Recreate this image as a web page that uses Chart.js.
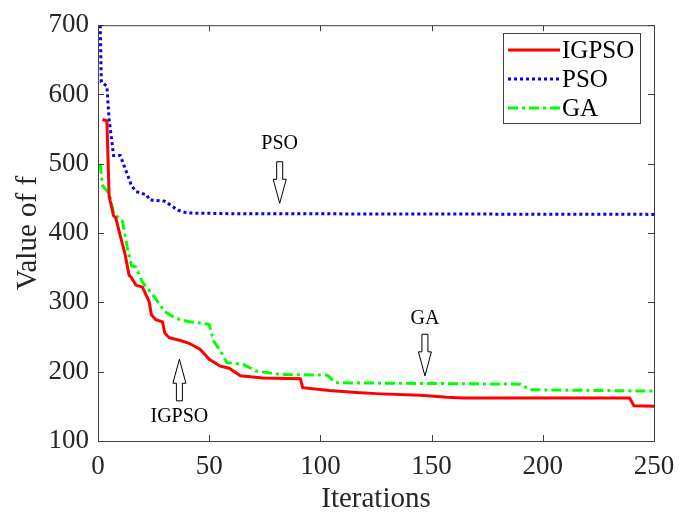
<!DOCTYPE html>
<html>
<head>
<meta charset="utf-8">
<script src="https://cdn.jsdelivr.net/npm/chart.js@4/dist/chart.umd.min.js"></script>
<style>
  html, body { margin: 0; padding: 0; background: #fff; }
  canvas { display: block; }
</style>
</head>
<body>
<canvas id="chart" width="693" height="518"></canvas>
<script>
// values (iteration, value of f)
const iterIGPSO = [2, 4, 5, 7, 8, 10, 12, 14, 15, 17, 20, 23, 24, 26, 29, 30, 32, 37, 41, 46, 50, 55, 59, 64, 74, 91, 92, 104, 116, 127, 145, 157, 164, 239, 241, 250];
const valIGPSO  = [564, 562, 453, 425, 422, 396, 372, 339, 336, 325, 322, 301, 282, 275, 272, 256, 249, 245, 241, 232, 218, 208, 205, 194, 191, 190, 177, 173, 170, 168, 166, 163, 162, 162, 151, 150];

const iterPSO = [1, 1.5, 4, 5, 7, 10, 15, 17, 22, 23, 30, 36, 40, 60, 250];
const valPSO  = [700, 618, 612, 564, 512, 512, 469, 460, 455, 448, 446, 433, 429, 428, 427];

const iterGA = [1, 2, 5, 7, 11, 13, 15, 17, 20, 26, 30, 35, 41, 47, 50, 52, 55, 58, 65, 71, 82, 103, 107, 190, 194, 250];
const valGA  = [500, 469, 457, 429, 417, 382, 353, 351, 329, 305, 287, 277, 272, 270, 268, 244, 230, 213, 211, 201, 196, 195, 184, 182, 174, 172];

const xTicks = [0, 50, 100, 150, 200, 250];
const yTicks = [100, 200, 300, 400, 500, 600, 700];

// arrow notes: x, tail value, tip value, text value
const notes = [
  { text: 'PSO',   x: 81.7,  tail: 503, tip: 443, textY: 529 },
  { text: 'GA',    x: 147,   tail: 254, tip: 194, textY: 277 },
  { text: 'IGPSO', x: 36.6,  tail: 158, tip: 218, textY: 135 }
];

const serif = "'Liberation Serif', 'Times New Roman', serif";
const axisColor = '#404040';

function pts(xs, ys) {
  return xs.map((x, i) => ({ x: x, y: ys[i] }));
}

const datasets = [
  { label: 'IGPSO', data: pts(iterIGPSO, valIGPSO), borderColor: '#ff0000', borderWidth: 3, borderDash: [] },
  { label: 'PSO',   data: pts(iterPSO, valPSO),     borderColor: '#0000ff', borderWidth: 3, borderDash: [3, 3] },
  { label: 'GA',    data: pts(iterGA, valGA),       borderColor: '#00ff00', borderWidth: 3, borderDash: [10, 4, 3, 4] }
];
datasets.forEach(d => {
  d.pointRadius = 0;
  d.fill = false;
  d.tension = 0;
});

const boxPlugin = {
  id: 'boxPlugin',
  afterDatasetsDraw(chart) {
    const ctx = chart.ctx;
    const a = chart.chartArea;
    const xs = chart.scales.x, ys = chart.scales.y;
    ctx.save();
    // frame
    ctx.strokeStyle = axisColor;
    ctx.lineWidth = 1;
    ctx.setLineDash([]);
    ctx.strokeRect(a.left + 0.5, a.top + 0.5, a.right - a.left, a.bottom - a.top);
    // inward ticks
    ctx.beginPath();
    xTicks.forEach(v => {
      const px = Math.round(xs.getPixelForValue(v)) + 0.5;
      ctx.moveTo(px, a.bottom); ctx.lineTo(px, a.bottom - 6);
      ctx.moveTo(px, a.top); ctx.lineTo(px, a.top + 6);
    });
    yTicks.forEach(v => {
      const py = Math.round(ys.getPixelForValue(v)) + 0.5;
      ctx.moveTo(a.left, py); ctx.lineTo(a.left + 6, py);
      ctx.moveTo(a.right, py); ctx.lineTo(a.right - 6, py);
    });
    ctx.stroke();

    // arrows with notes
    ctx.font = '20px ' + serif;
    ctx.textAlign = 'center';
    ctx.textBaseline = 'middle';
    notes.forEach(n => {
      const cx = xs.getPixelForValue(n.x);
      const yTail = ys.getPixelForValue(n.tail);
      const yTip = ys.getPixelForValue(n.tip);
      const dir = yTip > yTail ? 1 : -1;
      const head = 24, sw = 3, hw = 6.5;
      const yNeck = yTip - dir * head;
      ctx.beginPath();
      ctx.moveTo(cx - sw, yTail);
      ctx.lineTo(cx + sw, yTail);
      ctx.lineTo(cx + sw, yNeck);
      ctx.lineTo(cx + hw, yNeck);
      ctx.lineTo(cx, yTip);
      ctx.lineTo(cx - hw, yNeck);
      ctx.lineTo(cx - sw, yNeck);
      ctx.closePath();
      ctx.fillStyle = '#fff';
      ctx.fill();
      ctx.strokeStyle = '#000';
      ctx.lineWidth = 1;
      ctx.stroke();
      ctx.fillStyle = '#000';
      ctx.fillText(n.text, cx, ys.getPixelForValue(n.textY));
    });

    // legend box
    const lx = 503, ly = 33, lw = 137, lh = 90;
    ctx.fillStyle = '#fff';
    ctx.fillRect(lx, ly, lw, lh);
    ctx.strokeStyle = axisColor;
    ctx.strokeRect(lx + 0.5, ly + 0.5, lw, lh);
    ctx.font = '25px ' + serif;
    ctx.textAlign = 'left';
    datasets.forEach((d, i) => {
      const y = ly + 17 + i * 29;
      ctx.beginPath();
      ctx.strokeStyle = d.borderColor;
      ctx.lineWidth = d.borderWidth;
      ctx.setLineDash(d.borderDash);
      ctx.moveTo(508, y);
      ctx.lineTo(560, y);
      ctx.stroke();
      ctx.setLineDash([]);
      ctx.fillStyle = '#000';
      ctx.fillText(d.label, 562, y + 1);
    });
    ctx.restore();
  }
};

new Chart(document.getElementById('chart'), {
  type: 'line',
  data: { datasets: datasets },
  options: {
    responsive: false,
    animation: false,
    devicePixelRatio: 1,
    layout: { padding: { top: 20, right: 39, left: 0, bottom: 0 } },
    plugins: {
      legend: { display: false },
      tooltip: { enabled: false }
    },
    scales: {
      x: {
        type: 'linear',
        min: 0,
        max: 250,
        afterBuildTicks: s => { s.ticks = xTicks.map(v => ({ value: v })); },
        afterFit: s => { s.height = 77; },
        grid: { display: false, drawTicks: false },
        border: { display: false },
        ticks: { color: '#262626', padding: 10, font: { family: serif, size: 27 } },
        title: { display: true, text: 'Iterations', color: '#262626', padding: { top: 0, bottom: 1 }, font: { family: serif, size: 29 } }
      },
      y: {
        type: 'linear',
        min: 100,
        max: 700,
        afterBuildTicks: s => { s.ticks = yTicks.map(v => ({ value: v })); },
        afterFit: s => { s.width = 98; },
        grid: { display: false, drawTicks: false },
        border: { display: false },
        ticks: { color: '#262626', padding: 9, font: { family: serif, size: 27 } },
        title: { display: true, text: 'Value of f', color: '#262626', padding: { top: 11, bottom: 0 }, font: { family: serif, size: 29 } }
      }
    }
  },
  plugins: [boxPlugin]
});
</script>
</body>
</html>
